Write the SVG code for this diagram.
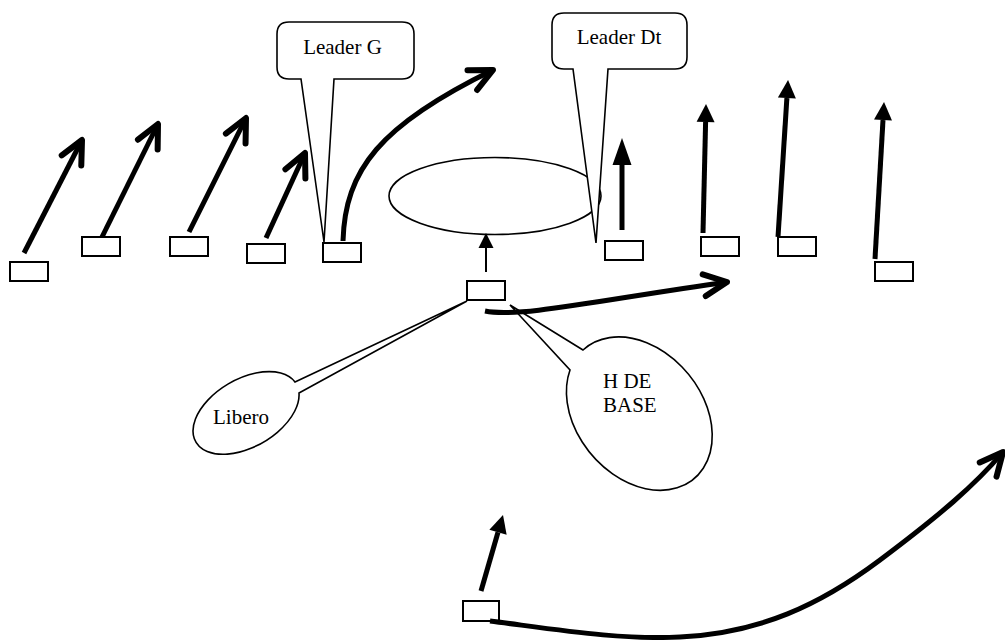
<svg xmlns="http://www.w3.org/2000/svg" width="1005" height="640" viewBox="0 0 1005 640">
<style>
.p{fill:#fff;stroke:#000;stroke-width:2}
.co{fill:#fff;stroke:#000;stroke-width:1.6;stroke-linejoin:miter}
.t{font-family:'Liberation Serif','DejaVu Serif',serif;font-size:21px;fill:#000}
.th{fill:none;stroke:#000;stroke-width:5}
.tn{fill:none;stroke:#000;stroke-width:2}
</style>
<defs>
<marker id="chev" markerUnits="userSpaceOnUse" markerWidth="40" markerHeight="40" refX="0" refY="0" orient="auto" overflow="visible"><path d="M-23,-11 L0,0 L-23,11" fill="none" stroke="#000" stroke-width="6" stroke-linejoin="round" stroke-linecap="round"/></marker>
<marker id="tri" markerUnits="userSpaceOnUse" markerWidth="30" markerHeight="30" refX="0" refY="0" orient="auto" overflow="visible"><path d="M0,-9 L18,0 L0,9 Z" fill="#000"/></marker>
<marker id="triL" markerUnits="userSpaceOnUse" markerWidth="30" markerHeight="30" refX="0" refY="0" orient="auto" overflow="visible"><path d="M0,-9.5 L27,0 L0,9.5 Z" fill="#000"/></marker>
<marker id="triS" markerUnits="userSpaceOnUse" markerWidth="30" markerHeight="30" refX="0" refY="0" orient="auto" overflow="visible"><path d="M0,-7.5 L15,0 L0,7.5 Z" fill="#000"/></marker>
</defs>
<rect width="1005" height="640" fill="#fff"/>
<g id="zone"><ellipse cx="495" cy="196" rx="106" ry="38.5" fill="#fff" stroke="#000" stroke-width="1.6"/></g>
<g id="leader-g"><path class="co" d="M289,22 H402 Q414,22 414,34 V67 Q414,79 402,79 H334 L324,242 L301,79 H289 Q277,79 277,67 V34 Q277,22 289,22 Z"/><text class="t" font-family="Liberation Serif, DejaVu Serif, serif" x="342.5" y="54" text-anchor="middle">Leader G</text></g>
<g id="leader-dt"><path class="co" d="M564,13 H675 Q687,13 687,25 V57 Q687,69 675,69 H608 L596,243 L573,69 H564 Q552,69 552,57 V25 Q552,13 564,13 Z"/><text class="t" font-family="Liberation Serif, DejaVu Serif, serif" x="619" y="44" text-anchor="middle">Leader Dt</text></g>
<g id="libero"><path class="co" d="M295,382 L467,301 L299,393 A58,34 -30 1 1 295,382 Z"/><text class="t" font-family="Liberation Serif, DejaVu Serif, serif" x="213" y="424">Libero</text></g>
<g id="h-de-base"><path class="co" d="M583,350 L510,305 L570,370 A63,85 -40 1 0 583,350 Z"/><text class="t" font-family="Liberation Serif, DejaVu Serif, serif" x="603" y="388">H DE</text><text class="t" font-family="Liberation Serif, DejaVu Serif, serif" x="603" y="412">BASE</text></g>
<g id="players">
<g id="p1"><rect class="p" x="10" y="262" width="38" height="19"/></g>
<g id="p2"><rect class="p" x="82" y="237" width="38" height="19"/></g>
<g id="p3"><rect class="p" x="170" y="237" width="38" height="19"/></g>
<g id="p4"><rect class="p" x="247" y="244" width="38" height="19"/></g>
<g id="p5"><rect class="p" x="323" y="243" width="38" height="19"/></g>
<g id="p-center"><rect class="p" x="467" y="281" width="38" height="19"/></g>
<g id="p6"><rect class="p" x="605" y="241" width="38" height="19"/></g>
<g id="p7"><rect class="p" x="701" y="237" width="38" height="19"/></g>
<g id="p8"><rect class="p" x="778" y="237" width="38" height="19"/></g>
<g id="p9"><rect class="p" x="875" y="262" width="38" height="19"/></g>
<g id="p-bottom"><rect class="p" x="463" y="601" width="36" height="20"/></g>
</g>
<g id="connectors">
<path class="th" d="M24,253 L82,140" marker-end="url(#chev)"/>
<path class="th" d="M102,237 L158,124" marker-end="url(#chev)"/>
<path class="th" d="M189,232 L246,118" marker-end="url(#chev)"/>
<path class="th" d="M266,238 L305,153" marker-end="url(#chev)"/>
<path class="th" d="M343,241 C345,170 380,125 493,70" marker-end="url(#chev)"/>
<path class="th" d="M485,311 C520,318 600,300 727,282" marker-end="url(#chev)"/>
<path class="th" d="M490,621 C560,630 620,640 680,637 C760,633 820,605 880,560 C940,515 975,485 1003,452" marker-end="url(#chev)"/>
<path class="tn" d="M486,272 L486,248" marker-end="url(#triS)"/>
<path class="th" d="M622,230 L622,165" marker-end="url(#triL)"/>
<path class="th" d="M703,233 L705.6,122" marker-end="url(#tri)"/>
<path class="th" d="M778,237 L786.9,98" marker-end="url(#tri)"/>
<path class="th" d="M875,259 L883,120" marker-end="url(#tri)"/>
<path class="th" d="M481,591 L498,532.3" marker-end="url(#tri)"/>
</g>
</svg>
